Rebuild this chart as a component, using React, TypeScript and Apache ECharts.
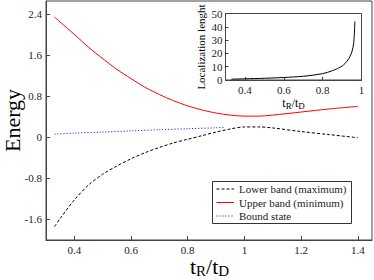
import React, { useEffect, useRef } from "react";
import * as echarts from "echarts";

const upperX = [0.33, 0.35, 0.4, 0.45, 0.5, 0.55, 0.6, 0.65, 0.7, 0.75, 0.8, 0.85, 0.9, 0.95, 1.0, 1.05, 1.1, 1.2, 1.3, 1.4];
const upperY = [2.34, 2.24, 2.0, 1.75, 1.53, 1.32, 1.14, 0.97, 0.83, 0.71, 0.61, 0.53, 0.47, 0.43, 0.41, 0.41, 0.43, 0.49, 0.55, 0.6];

const lowerX = [0.33, 0.35, 0.4, 0.45, 0.5, 0.55, 0.6, 0.65, 0.7, 0.75, 0.8, 0.85, 0.9, 0.95, 1.0, 1.05, 1.1, 1.2, 1.3, 1.4];
const lowerY = [-1.74, -1.58, -1.22, -0.93, -0.72, -0.56, -0.42, -0.3, -0.2, -0.11, -0.04, 0.03, 0.1, 0.16, 0.2, 0.2, 0.18, 0.11, 0.05, -0.01];

const boundX = [0.33, 0.4, 0.5, 0.6, 0.7, 0.8, 0.9, 0.93];
const boundY = [0.06, 0.08, 0.1, 0.123, 0.145, 0.165, 0.183, 0.19];

const locX = [0.33, 0.4, 0.5, 0.6, 0.7, 0.8, 0.85, 0.9, 0.93, 0.95, 0.96, 0.966];
const locY = [0.6, 0.9, 1.3, 1.9, 2.8, 4.8, 7, 10.5, 15, 21, 28, 44];

const mainXTicks = [0.4, 0.6, 0.8, 1, 1.2, 1.4];
const mainYTicks = [-1.6, -0.8, 0, 0.8, 1.6, 2.4];
const insetXTicks = [0.4, 0.6, 0.8, 1];

const seriesNames = ["Lower band (maximum)", "Upper band (minimum)", "Bound state"];
const seriesColors = ["#000000", "#ff0000", "#0000ff"];
const seriesDash: (number[] | "solid")[] = [[3, 2], "solid", [1, 2]];

const zip = (xs: number[], ys: number[]) => xs.map((x, i) => [x, ys[i]]);

const FONT = "Liberation Serif";
const TEXT = "#222";
const FRAME = "#444";

export default function App() {
  const ref = useRef<HTMLDivElement>(null);
  useEffect(() => {
    if (!ref.current) return;
    const chart = echarts.init(ref.current, undefined, { renderer: "svg" });
    const labelStyle = { color: TEXT, fontFamily: FONT, fontSize: 11 };
    const legendTop = 181;
    const legendRows = [189, 202.5, 216];
    const legendGraphics: any[] = [
      {
        type: "rect",
        shape: { x: 212.5, y: legendTop + 0.5, width: 139, height: 42 },
        style: { fill: "#fff", stroke: "#333", lineWidth: 1 },
        z: 10,
      },
    ];
    seriesNames.forEach((name, i) => {
      legendGraphics.push({
        type: "line",
        shape: { x1: 216.5, y1: legendRows[i], x2: 234, y2: legendRows[i] },
        style: { stroke: seriesColors[i], lineWidth: 1, lineDash: seriesDash[i] === "solid" ? null : seriesDash[i] },
        z: 11,
      });
      legendGraphics.push({
        type: "text",
        x: 239,
        y: legendRows[i],
        style: { text: name, fill: TEXT, font: `11px ${FONT}`, textAlign: "left", textVerticalAlign: "middle" },
        z: 11,
      });
    });
    chart.setOption({
      animation: false,
      backgroundColor: "#fff",
      grid: [
        { left: 46, top: 1, width: 326, height: 239, show: true, borderColor: FRAME, borderWidth: 1, backgroundColor: "transparent" },
        { left: 225.5, top: 13.5, width: 136, height: 66.5, show: true, borderColor: FRAME, borderWidth: 1, backgroundColor: "#fff" },
      ],
      xAxis: [
        {
          type: "value", gridIndex: 0, min: 0.3, max: 1.45,
          axisLine: { show: true, onZero: false, lineStyle: { color: FRAME } },
          axisTick: { show: true, inside: true, length: 4, customValues: mainXTicks, lineStyle: { color: FRAME } },
          axisLabel: { ...labelStyle, margin: 4, customValues: mainXTicks, formatter: (v: number) => String(v) },
          splitLine: { show: false },
        },
        {
          type: "value", gridIndex: 1, min: 0.3, max: 1,
          axisLine: { show: true, onZero: false, lineStyle: { color: FRAME } },
          axisTick: { show: true, inside: true, length: 3, customValues: insetXTicks, lineStyle: { color: FRAME } },
          axisLabel: { ...labelStyle, margin: 4, customValues: insetXTicks, formatter: (v: number) => String(v) },
          splitLine: { show: false },
        },
      ],
      yAxis: [
        {
          type: "value", gridIndex: 0, min: -2, max: 2.65,
          axisLine: { show: true, onZero: false, lineStyle: { color: FRAME } },
          axisTick: { show: true, inside: true, length: 4, customValues: mainYTicks, lineStyle: { color: FRAME } },
          axisLabel: { ...labelStyle, margin: 4, customValues: mainYTicks, formatter: (v: number) => String(v) },
          splitLine: { show: false },
        },
        {
          type: "value", gridIndex: 1, min: 0, max: 50, interval: 10,
          axisLine: { show: true, onZero: false, lineStyle: { color: FRAME } },
          axisTick: { show: true, inside: true, length: 3, lineStyle: { color: FRAME } },
          axisLabel: { ...labelStyle, margin: 3 },
          splitLine: { show: false },
        },
      ],
      series: [
        {
          name: seriesNames[0], type: "line", xAxisIndex: 0, yAxisIndex: 0, symbol: "none",
          data: zip(lowerX, lowerY), smooth: 0.3,
          lineStyle: { color: seriesColors[0], width: 1, type: seriesDash[0] },
        },
        {
          name: seriesNames[1], type: "line", xAxisIndex: 0, yAxisIndex: 0, symbol: "none",
          data: zip(upperX, upperY), smooth: 0.3,
          lineStyle: { color: seriesColors[1], width: 1 },
        },
        {
          name: seriesNames[2], type: "line", xAxisIndex: 0, yAxisIndex: 0, symbol: "none",
          data: zip(boundX, boundY), smooth: 0.3,
          lineStyle: { color: seriesColors[2], width: 1, type: seriesDash[2] },
        },
        {
          name: "Localization lenght", type: "line", xAxisIndex: 1, yAxisIndex: 1, symbol: "none",
          data: zip(locX, locY), smooth: 0.3,
          lineStyle: { color: "#000", width: 1 },
        },
      ],
      graphic: [
        ...legendGraphics,
        {
          type: "text", x: 12, y: 120.5, rotation: Math.PI / 2,
          style: { text: "Energy", fill: "#000", font: `22px ${FONT}`, textAlign: "center", textVerticalAlign: "middle" },
        },
        {
          type: "text", x: 209.5, y: 266,
          style: {
            text: "{a|t}{b|R}{a|/t}{b|D}",
            textAlign: "center", textVerticalAlign: "middle",
            rich: {
              a: { fontFamily: FONT, fontSize: 22, fill: "#000", color: "#000" },
              b: { fontFamily: FONT, fontSize: 15, fill: "#000", color: "#000", verticalAlign: "bottom", padding: [10, 0, 0, 0] },
            },
          },
        },
        {
          type: "text", x: 201, y: 47, rotation: Math.PI / 2,
          style: { text: "Localization lenght", fill: "#000", font: `11px ${FONT}`, textAlign: "center", textVerticalAlign: "middle" },
        },
        {
          type: "text", x: 293.6, y: 103,
          style: {
            text: "{a|t}{b|R}{a|/t}{b|D}",
            textAlign: "center", textVerticalAlign: "middle",
            rich: {
              a: { fontFamily: FONT, fontSize: 12, fill: "#000", color: "#000" },
              b: { fontFamily: FONT, fontSize: 9, fill: "#000", color: "#000", verticalAlign: "bottom", padding: [5, 0, 0, 0] },
            },
          },
        },
      ],
    });
    return () => chart.dispose();
  }, []);
  return <div ref={ref} style={{ width: 374, height: 280, position: "absolute", left: 0, top: 0 }} />;
}
